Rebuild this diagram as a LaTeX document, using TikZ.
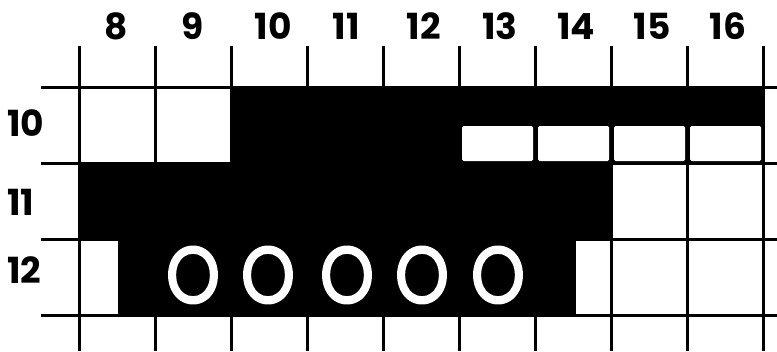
\documentclass[tikz,border=0pt]{standalone}
\usepackage{fontspec}
\setsansfont{Poppins}
\newfontfamily\holefont{Poppins}[FakeBold=2.5]
\begin{document}
\begin{tikzpicture}[x=1pt,y=-1pt,
  gridline/.style={line width=3pt,black},
  lab/.style={font=\sffamily\bfseries\fontsize{36}{36}\selectfont,inner sep=0pt},
  rowlab/.style={lab,anchor=west},
  hole/.style={font=\holefont\fontsize{80}{80}\selectfont,text=white,inner sep=0pt,xscale=0.86},
  gap/.style={fill=white,rounded corners=1.5pt}]
\useasboundingbox (0,0) rectangle (777,351);
\fill[white] (0,0) rectangle (777,351);
% black region
\fill[black] (231,86) rectangle (764,162);
\fill[black] (79,162) rectangle (611,239);
\fill[black] (118,239) rectangle (576,314);
% grid lines
\foreach \k in {0,...,9}
  \draw[gridline] ({79+76*\k},46) -- ({79+76*\k},351);
\foreach \y in {87,163,239,315}
  \draw[gridline] (41,\y) -- (777,\y);
% white slots in row 10
\fill[gap] (462,126) rectangle (533,161);
\fill[gap] (538,126) rectangle (609,161);
\fill[gap] (614,126) rectangle (685,161);
\fill[gap] (690,126) rectangle (761,161);
% column labels
\node[lab] (c8)  at (116,26) {8};
\node[lab] (c9)  at (193,26) {9};
\node[lab] (c10) at (273,26) {10};
\node[lab] (c11) at (346,26) {11};
\node[lab] (c12) at (424,26) {12};
\node[lab] (c13) at (500,26) {13};
\node[lab] (c14) at (576,26) {14};
\node[lab] (c15) at (652,26) {15};
\node[lab] (c16) at (728,26) {16};
% row labels
\node[rowlab] (r10) at (7,123) {10};
\node[rowlab] (r11) at (7,202) {11};
\node[rowlab] (r12) at (7,270) {12};
% white O marks
\node[hole] (o1) at (193,275) {O};
\node[hole] (o2) at (268,275) {O};
\node[hole] (o3) at (347,275) {O};
\node[hole] (o4) at (422,275) {O};
\node[hole] (o5) at (498,275) {O};
\end{tikzpicture}
\end{document}
